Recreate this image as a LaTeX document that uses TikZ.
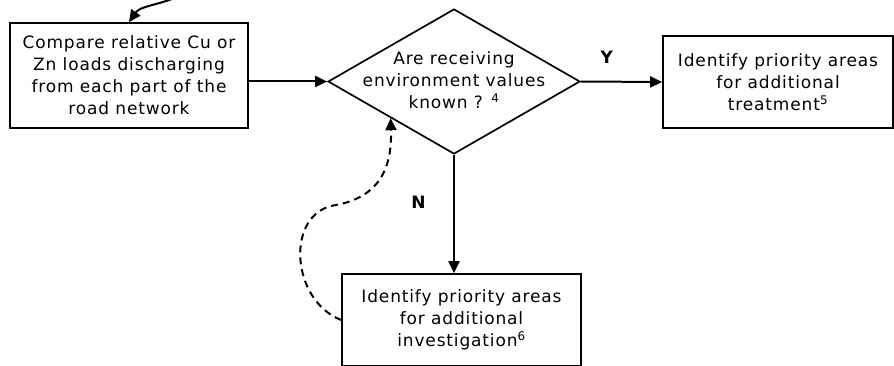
\documentclass[tikz,border=0pt]{standalone}
\usepackage{fontspec}
\setmainfont[LetterSpace=5]{DejaVu Sans}
\usetikzlibrary{arrows.meta, shapes.geometric}

\begin{document}
\begin{tikzpicture}[x=1pt, y=-1pt,
	box/.style={draw, line width=1.7pt, align=center, inner sep=0pt,
		font=\fontsize{17}{22}\selectfont},
	decision/.style={draw, diamond, line width=1.7pt, inner sep=0pt, aspect=1.74},
	arrow/.style={line width=2pt, -{Triangle[length=12pt, width=11pt]}},
	lbl/.style={font=\fontsize{17}{18}\selectfont\bfseries}]
	%    frame of the page
	\useasboundingbox (0,0) rectangle (894,366);
	
	\node[box, minimum width=238, minimum height=105] (compare) at (129,75.5)
		{Compare relative Cu or\\Zn loads discharging\\from each part of the\\road network};
	\node[decision, minimum width=252, minimum height=145] (decide) at (454,81.5) {};
	\node[box, draw=none] (decidetext) at (454,80)
		{Are receiving\\environment values\\known ? \textsuperscript{4}};
	\node[box, minimum width=230, minimum height=92] (treat) at (778,82)
		{Identify priority areas\\for additional\\treatment\textsuperscript{5}};
	\node[box, minimum width=239, minimum height=92] (invest) at (461.5,320)
		{Identify priority areas\\for additional\\investigation\textsuperscript{6}};
	
	\coordinate (incoming) at (172,-1);
	
	% connectors
	\draw[arrow] (incoming) to[out=200, in=55] (compare.north);
	\draw[arrow] (compare.east |- decide.west) -- (decide.west);
	\draw[arrow] (decide.east) -- (treat.west) node[lbl, pos=0.32, above=14pt] (yes) {Y};
	\draw[arrow] (decide.south) -- (decide.south |- invest.north) node[lbl, pos=0.4, left=24pt] (no) {N};
	\draw[arrow, dashed, dash pattern=on 7pt off 5pt] (invest.west) .. controls (290,300) and (285,212) .. (336,205)
		.. controls (385,196) and (392,160) .. (decide.south west);
	
\end{tikzpicture}
\end{document}
